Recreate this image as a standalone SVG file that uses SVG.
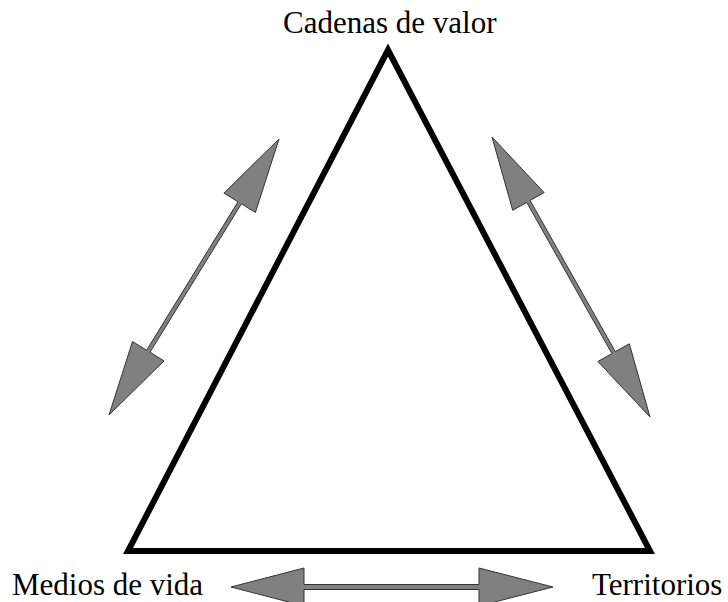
<svg xmlns="http://www.w3.org/2000/svg" width="728" height="602" viewBox="0 0 728 602">
  <style>
    .lbl { font-family: "Liberation Serif", "Times New Roman", serif; font-size: 31px; fill: #000; }
    .arr { fill: #808080; stroke: #333333; stroke-width: 1; stroke-linejoin: miter; }
    .tri { fill: #ffffff; stroke: #000000; stroke-width: 6; stroke-linejoin: miter; stroke-miterlimit: 10; }
  </style>
  <rect width="728" height="602" fill="#ffffff"/>
  <g id="triangle">
    <polygon class="tri" points="388,50 128,551 650,551"/>
  </g>
  <g id="node-cadenas">
    <text class="lbl" x="283" y="33">Cadenas de valor</text>
  </g>
  <g id="node-medios">
    <text class="lbl" x="12" y="595">Medios de vida</text>
  </g>
  <g id="node-territorios">
    <text class="lbl" x="592" y="595">Territorios</text>
  </g>
  <g id="connectors">
    <polygon class="arr" points="279,139 255.4,212.5 241.4,203.8 150.0,352.2 164.0,360.9 109,415 132.5,341.5 146.6,350.2 238.0,201.8 223.9,193.1"/>
    <polygon class="arr" points="492,137 544.1,192.6 530.1,200.4 615.3,351.6 629.3,343.8 650,417 597.9,361.5 611.9,353.6 526.7,202.4 512.7,210.3"/>
    <polygon class="arr" points="231,587 304,568 304,584.5 479,584.5 479,568 553,587 479,606 479,589.5 304,589.5 304,606"/>
  </g>
</svg>
